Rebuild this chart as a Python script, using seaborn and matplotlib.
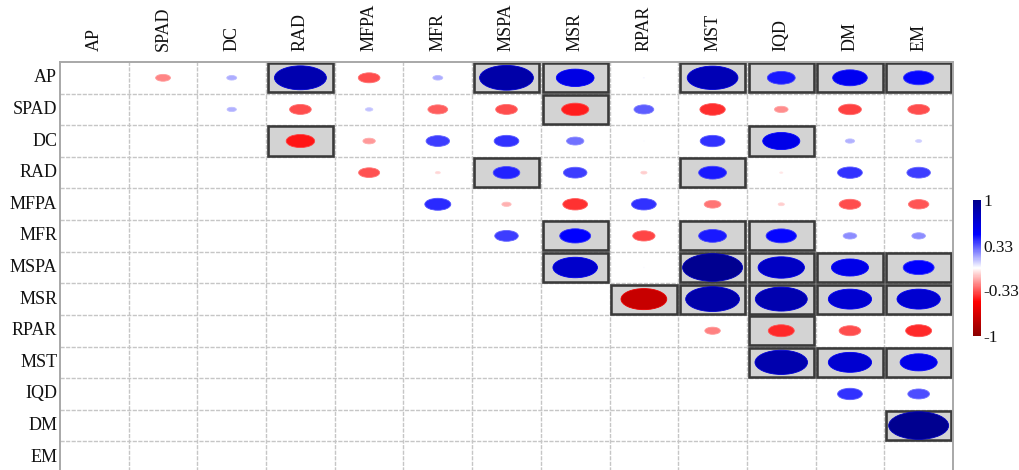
import numpy as np
import pandas as pd
import matplotlib
matplotlib.use("Agg")
import matplotlib.pyplot as plt
import seaborn as sns
from matplotlib.collections import EllipseCollection
from matplotlib.colors import LinearSegmentedColormap, ListedColormap, Normalize
from matplotlib.patches import Rectangle

# Trait names (rows and columns of the correlation matrix)
traits = ["AP", "SPAD", "DC", "RAD", "MFPA", "MFR", "MSPA", "MSR",
          "RPAR", "MST", "IQD", "DM", "EM"]

# Upper-triangle correlations: each list holds r with the traits that follow it
r_AP = [-0.24, 0.16, 0.84, -0.35, 0.16, 0.87, 0.61, 0.02, 0.82, 0.45, 0.56, 0.49]
r_SPAD = [0.15, -0.35, 0.12, -0.32, -0.35, -0.44, 0.32, -0.41, -0.22, -0.37, -0.35]
r_DC = [-0.46, -0.2, 0.38, 0.4, 0.28, 0.01, 0.4, 0.6, 0.15, 0.1]
r_RAD = [-0.34, -0.08, 0.43, 0.38, -0.1, 0.45, -0.05, 0.4, 0.38]
r_MFPA = [0.42, -0.15, -0.4, 0.4, -0.27, -0.1, -0.35, -0.33]
r_MFR = [0.38, 0.5, -0.36, 0.45, 0.49, 0.22, 0.22]
r_MSPA = [0.72, 0.01, 0.97, 0.75, 0.6, 0.5]
r_MSR = [-0.74, 0.87, 0.84, 0.7, 0.7]
r_RPAR = [-0.25, -0.42, -0.35, -0.42]
r_MST = [0.85, 0.7, 0.6]
r_IQD = [0.4, 0.35]
r_DM = [0.97]

# Significant pairs (highlighted cells)
sig_AP = ["RAD", "MSPA", "MSR", "MST", "IQD", "DM", "EM"]
sig_SPAD = ["MSR"]
sig_DC = ["RAD", "IQD"]
sig_RAD = ["MSPA", "MST"]
sig_MFR = ["MSR", "MST", "IQD"]
sig_MSPA = ["MSR", "MST", "IQD", "DM", "EM"]
sig_MSR = ["RPAR", "MST", "IQD", "DM", "EM"]
sig_RPAR = ["IQD"]
sig_MST = ["IQD", "DM", "EM"]
sig_DM = ["EM"]

rows_r = {"AP": r_AP, "SPAD": r_SPAD, "DC": r_DC, "RAD": r_RAD, "MFPA": r_MFPA,
          "MFR": r_MFR, "MSPA": r_MSPA, "MSR": r_MSR, "RPAR": r_RPAR,
          "MST": r_MST, "IQD": r_IQD, "DM": r_DM}
rows_sig = {"AP": sig_AP, "SPAD": sig_SPAD, "DC": sig_DC, "RAD": sig_RAD,
            "MFR": sig_MFR, "MSPA": sig_MSPA, "MSR": sig_MSR, "RPAR": sig_RPAR,
            "MST": sig_MST, "DM": sig_DM}

n = len(traits)
corr = pd.DataFrame(np.nan, index=traits, columns=traits)
sig = pd.DataFrame(0.0, index=traits, columns=traits)
for i, name in enumerate(traits[:-1]):
    for k, v in enumerate(rows_r[name]):
        corr.iloc[i, i + 1 + k] = v
    for other in rows_sig.get(name, []):
        sig.loc[name, other] = 1.0

cmap = LinearSegmentedColormap.from_list(
    "rwb", ["#8B0000", "#FF0000", "#FFFFFF", "#0000FF", "#00008B"])
norm = Normalize(-1, 1)

sns.set_theme(style="white")
plt.rcParams["font.family"] = ["Liberation Serif", "DejaVu Serif"]

fig = plt.figure(figsize=(10.19, 4.70), dpi=100)
ax = fig.add_axes([60 / 1019, 1 - 473 / 470, 893 / 1019, 411 / 470])

# Light-grey fill for significant cells, white gaps between cells
sns.heatmap(sig, ax=ax, cmap=ListedColormap(["#FFFFFF", "#D3D3D3"]),
            vmin=0, vmax=1, cbar=False, linewidths=2.2, linecolor="white",
            square=False)

# dotted cell grid
for k in range(1, n):
    ax.axvline(k, color="#C6C6C6", lw=1.0, ls=(0, (3, 1)), zorder=1.5)
    ax.axhline(k, color="#C6C6C6", lw=1.0, ls=(0, (3, 1)), zorder=1.5)

# dark frames around significant cells
for i in range(n):
    for j in range(n):
        if sig.iloc[i, j] > 0:
            ax.add_patch(Rectangle((j + 0.025, i + 0.04), 0.95, 0.92,
                                   facecolor="none", edgecolor="#3A3A3A",
                                   lw=1.9, zorder=2))

# ellipses: size proportional to |r|, colour by r
xs, ys, vals = [], [], []
for i in range(n):
    for j in range(n):
        v = corr.iloc[i, j]
        if not np.isnan(v):
            xs.append(j + 0.5)
            ys.append(i + 0.5)
            vals.append(v)
vals = np.array(vals)
size = 0.9 * np.abs(vals)
ec = EllipseCollection(size, size, np.zeros_like(size), units="xy",
                       offsets=np.column_stack([xs, ys]),
                       offset_transform=ax.transData,
                       facecolors=cmap(norm(vals)),
                       edgecolors=cmap(norm(vals * 0.8)), linewidths=0.6,
                       zorder=3)
ax.add_collection(ec)

ax.set_xlim(0, n)
ax.set_ylim(n, 0)
ax.xaxis.tick_top()
ax.set_xticks(np.arange(n) + 0.5)
ax.set_xticklabels(traits, rotation=90, fontsize=13, color="#111111")
ax.set_yticks(np.arange(n) + 0.5)
ax.set_yticklabels(traits, rotation=0, fontsize=13, color="#111111")
ax.tick_params(axis="x", length=0, pad=8)
ax.tick_params(axis="y", length=0, pad=2)
ax.set_xlabel("")
ax.set_ylabel("")
for side in ["left", "top", "right"]:
    ax.spines[side].set_visible(True)
    ax.spines[side].set_color("#A8A8A8")
    ax.spines[side].set_linewidth(1.4)
ax.spines["bottom"].set_visible(False)

# colour bar
cax = fig.add_axes([973 / 1019, 1 - 336 / 470, 8 / 1019, 136 / 470])
sm = matplotlib.cm.ScalarMappable(norm=norm, cmap=cmap)
cb = fig.colorbar(sm, cax=cax, ticks=[1, 0.33, -0.33, -1])
cb.ax.set_yticklabels(["1", "0.33", "-0.33", "-1"], fontsize=12.5, color="#111111")
cb.ax.tick_params(length=0, pad=2)
cb.outline.set_visible(False)

fig.savefig("out.png", dpi=100)
